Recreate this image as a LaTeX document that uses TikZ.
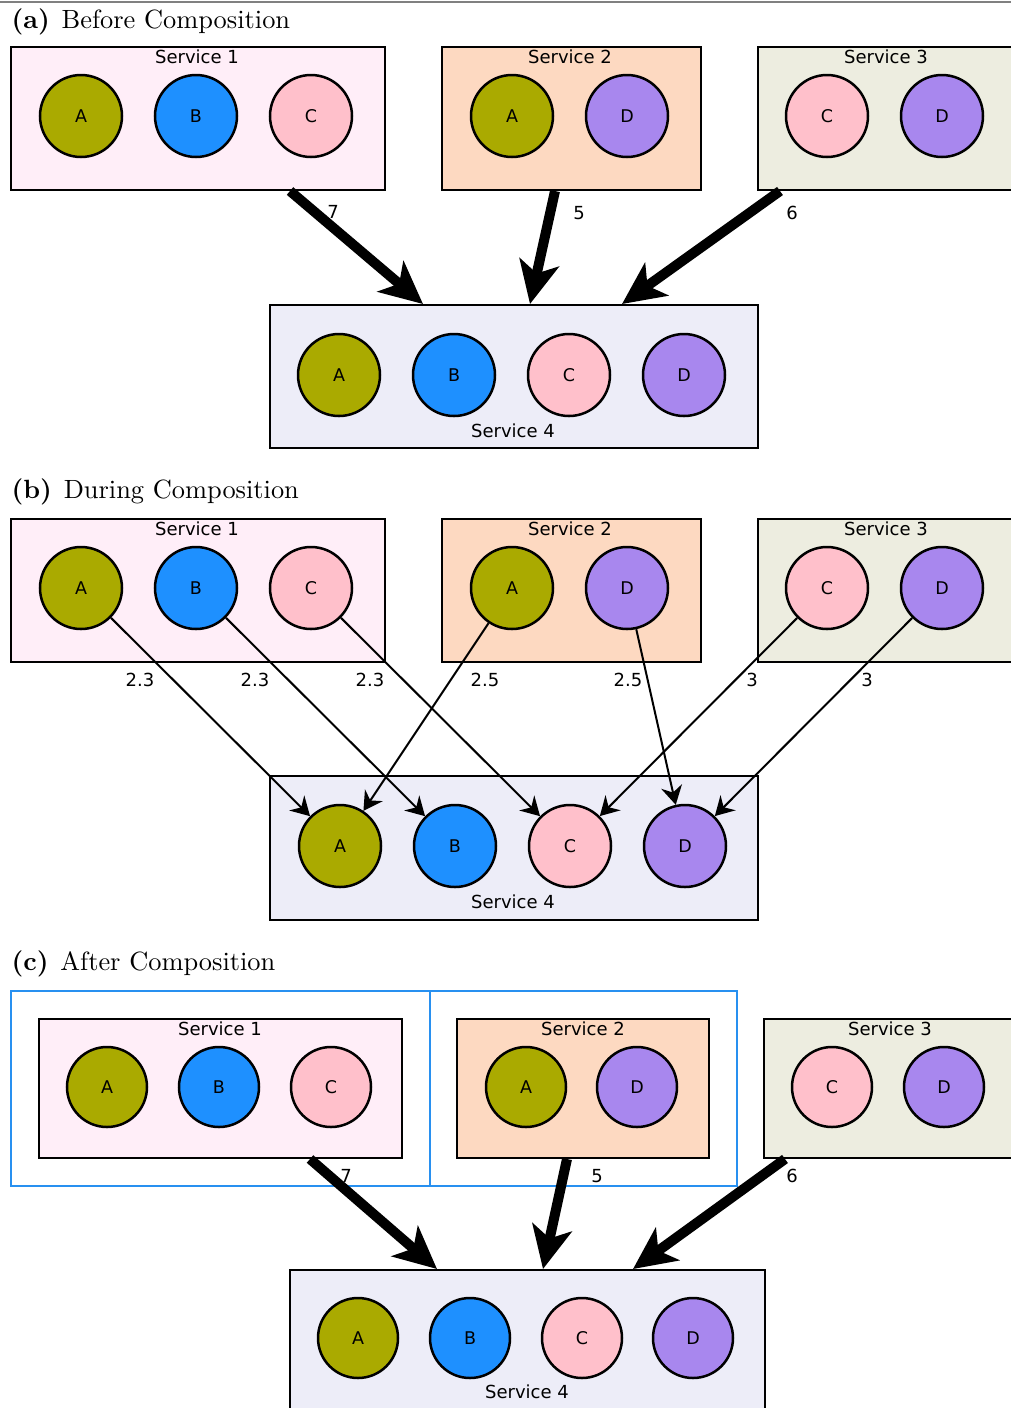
\documentclass[tikz,border=0pt]{standalone}
\usepackage{fontspec}
\newfontfamily\dejavu{DejaVu Sans}
\usetikzlibrary{arrows.meta}
\definecolor{cA}{HTML}{AAAA00}
\definecolor{cB}{HTML}{1E90FF}
\definecolor{cC}{HTML}{FFC0CB}
\definecolor{cD}{HTML}{A887EE}
\definecolor{sone}{HTML}{FFEEF8}
\definecolor{stwo}{HTML}{FDD9C1}
\definecolor{sthree}{HTML}{EDEDE0}
\definecolor{sfour}{HTML}{EDEDF8}
\definecolor{grp}{HTML}{2890F0}
\begin{document}
\begin{tikzpicture}[x=0.4pt,y=-0.4pt,
  svcbox/.style={draw=black, line width=0.8pt, rectangle, inner sep=0pt},
  grpbox/.style={draw=grp, line width=0.8pt, rectangle, inner sep=0pt},
  item/.style={circle, draw=black, line width=1pt, minimum size=32.8pt, inner sep=0pt, font=\dejavu\fontsize{7}{8}\selectfont},
  itemc/.style={item, minimum size=32pt},
  lbl/.style={inner sep=0pt, font=\dejavu\fontsize{7.2}{8}\selectfont},
  title/.style={inner sep=0pt, anchor=base west, font=\fontsize{10.55}{12}\selectfont},
  bigarrow/.style={line width=4pt, -{Stealth[length=17pt, width=16pt, inset=4.5pt]}},
  thinarrow/.style={line width=0.8pt, -{Stealth[length=7.5pt, width=8.5pt, inset=2.5pt]}},
]
\useasboundingbox (0,0) rectangle (1011,1408);
\draw[gray, line width=0.6pt] (0,2) -- (1011,2);

% ---------------- (a) ----------------
\node[title] (ta) at (11,28) {\textbf{(a)}\hspace{0.45em}Before Composition};
\node[svcbox, fill=sone, minimum width=149.6pt, minimum height=57.2pt] (a1) at (198,118.5) {};
\node[svcbox, fill=stwo, minimum width=103.6pt, minimum height=57.2pt] (a2) at (571.5,118.5) {};
\node[svcbox, fill=sthree, minimum width=102.4pt, minimum height=57.2pt] (a3) at (886,118.5) {};
\node[svcbox, fill=sfour, minimum width=195.2pt, minimum height=57.2pt] (a4) at (514,376.5) {};
\node[lbl] (a1l) at (197,57) {Service 1};
\node[lbl] (a2l) at (570,57) {Service 2};
\node[lbl] (a3l) at (886,57) {Service 3};
\node[lbl] (a4l) at (513,431) {Service 4};
\node[item, fill=cA] (a1A) at (81,116) {A};
\node[item, fill=cB] (a1B) at (196,116) {B};
\node[item, fill=cC] (a1C) at (311,116) {C};
\node[item, fill=cA] (a2A) at (512,116) {A};
\node[item, fill=cD] (a2D) at (627,116) {D};
\node[item, fill=cC] (a3C) at (827,116) {C};
\node[item, fill=cD] (a3D) at (942,116) {D};
\node[item, fill=cA] (a4A) at (339,375) {A};
\node[item, fill=cB] (a4B) at (454,375) {B};
\node[item, fill=cC] (a4C) at (569,375) {C};
\node[item, fill=cD] (a4D) at (684,375) {D};
\draw[bigarrow] ([xshift=36.8pt]a1.south) -- ([xshift=-36.4pt]a4.north);
\draw[bigarrow] ([xshift=-6.6pt]a2.south) -- ([xshift=6.4pt]a4.north);
\draw[bigarrow] ([xshift=-42.4pt]a3.south) -- ([xshift=43.2pt]a4.north);
\node[lbl] (aw1) at (333,212) {7};
\node[lbl] (aw2) at (579,213) {5};
\node[lbl] (aw3) at (792,213) {6};

% ---------------- (b) ----------------
\node[title] (tb) at (11,498) {\textbf{(b)}\hspace{0.45em}During Composition};
\node[svcbox, fill=sone, minimum width=149.6pt, minimum height=57.2pt] (b1) at (198,590.5) {};
\node[svcbox, fill=stwo, minimum width=103.6pt, minimum height=57.2pt] (b2) at (571.5,590.5) {};
\node[svcbox, fill=sthree, minimum width=102.4pt, minimum height=57.2pt] (b3) at (886,590.5) {};
\node[svcbox, fill=sfour, minimum width=195.2pt, minimum height=57.6pt] (b4) at (514,848) {};
\node[lbl] (b1l) at (197,529) {Service 1};
\node[lbl] (b2l) at (570,529) {Service 2};
\node[lbl] (b3l) at (886,529) {Service 3};
\node[lbl] (b4l) at (513,902) {Service 4};
\node[item, fill=cA] (b1A) at (81,588) {A};
\node[item, fill=cB] (b1B) at (196,588) {B};
\node[item, fill=cC] (b1C) at (311,588) {C};
\node[item, fill=cA] (b2A) at (512,588) {A};
\node[item, fill=cD] (b2D) at (627,588) {D};
\node[item, fill=cC] (b3C) at (827,588) {C};
\node[item, fill=cD] (b3D) at (942,588) {D};
\node[item, fill=cA] (b4A) at (340,846) {A};
\node[item, fill=cB] (b4B) at (455,846) {B};
\node[item, fill=cC] (b4C) at (570,846) {C};
\node[item, fill=cD] (b4D) at (685,846) {D};
\draw[thinarrow] (b1A) -- (b4A);
\draw[thinarrow] (b1B) -- (b4B);
\draw[thinarrow] (b1C) -- (b4C);
\draw[thinarrow] (b2A) -- (b4A);
\draw[thinarrow] (b2D) -- (b4D);
\draw[thinarrow] (b3C) -- (b4C);
\draw[thinarrow] (b3D) -- (b4D);
\node[lbl] (bw1) at (140,680) {2.3};
\node[lbl] (bw2) at (255,680) {2.3};
\node[lbl] (bw3) at (370,680) {2.3};
\node[lbl] (bw4) at (485,680) {2.5};
\node[lbl] (bw5) at (628,680) {2.5};
\node[lbl] (bw6) at (752,680) {3};
\node[lbl] (bw7) at (867,680) {3};

% ---------------- (c) ----------------
\node[title] (tc) at (11,970) {\textbf{(c)}\hspace{0.45em}After Composition};
\node[grpbox, minimum width=167.6pt, minimum height=78pt] (g1) at (220.5,1088.5) {};
\node[grpbox, minimum width=122.8pt, minimum height=78pt] (g2) at (583.5,1088.5) {};
\node[svcbox, fill=sone, minimum width=145.2pt, minimum height=55.6pt] (c1) at (220.5,1088.5) {};
\node[svcbox, fill=stwo, minimum width=100.8pt, minimum height=55.6pt] (c2) at (583,1088.5) {};
\node[svcbox, fill=sthree, minimum width=100.8pt, minimum height=55.6pt] (c3) at (890,1088.5) {};
\node[svcbox, fill=sfour, minimum width=190pt, minimum height=55.6pt] (c4) at (527.5,1339.5) {};
\node[lbl] (c1l) at (220,1029) {Service 1};
\node[lbl] (c2l) at (583,1029) {Service 2};
\node[lbl] (c3l) at (890,1029) {Service 3};
\node[lbl] (c4l) at (527,1392) {Service 4};
\node[itemc, fill=cA] (c1A) at (107,1087) {A};
\node[itemc, fill=cB] (c1B) at (219,1087) {B};
\node[itemc, fill=cC] (c1C) at (331,1087) {C};
\node[itemc, fill=cA] (c2A) at (526,1087) {A};
\node[itemc, fill=cD] (c2D) at (637,1087) {D};
\node[itemc, fill=cC] (c3C) at (832,1087) {C};
\node[itemc, fill=cD] (c3D) at (944,1087) {D};
\node[itemc, fill=cA] (c4A) at (358,1338) {A};
\node[itemc, fill=cB] (c4B) at (470,1338) {B};
\node[itemc, fill=cC] (c4C) at (582,1338) {C};
\node[itemc, fill=cD] (c4D) at (693,1338) {D};
\draw[bigarrow] ([xshift=35.8pt]c1.south) -- ([xshift=-36.2pt]c4.north);
\draw[bigarrow] ([xshift=-6.4pt]c2.south) -- ([xshift=6.2pt]c4.north);
\draw[bigarrow] ([xshift=-42pt]c3.south) -- ([xshift=42.2pt]c4.north);
\node[lbl] (cw1) at (346,1176) {7};
\node[lbl] (cw2) at (597,1176) {5};
\node[lbl] (cw3) at (792,1176) {6};
\end{tikzpicture}
\end{document}
